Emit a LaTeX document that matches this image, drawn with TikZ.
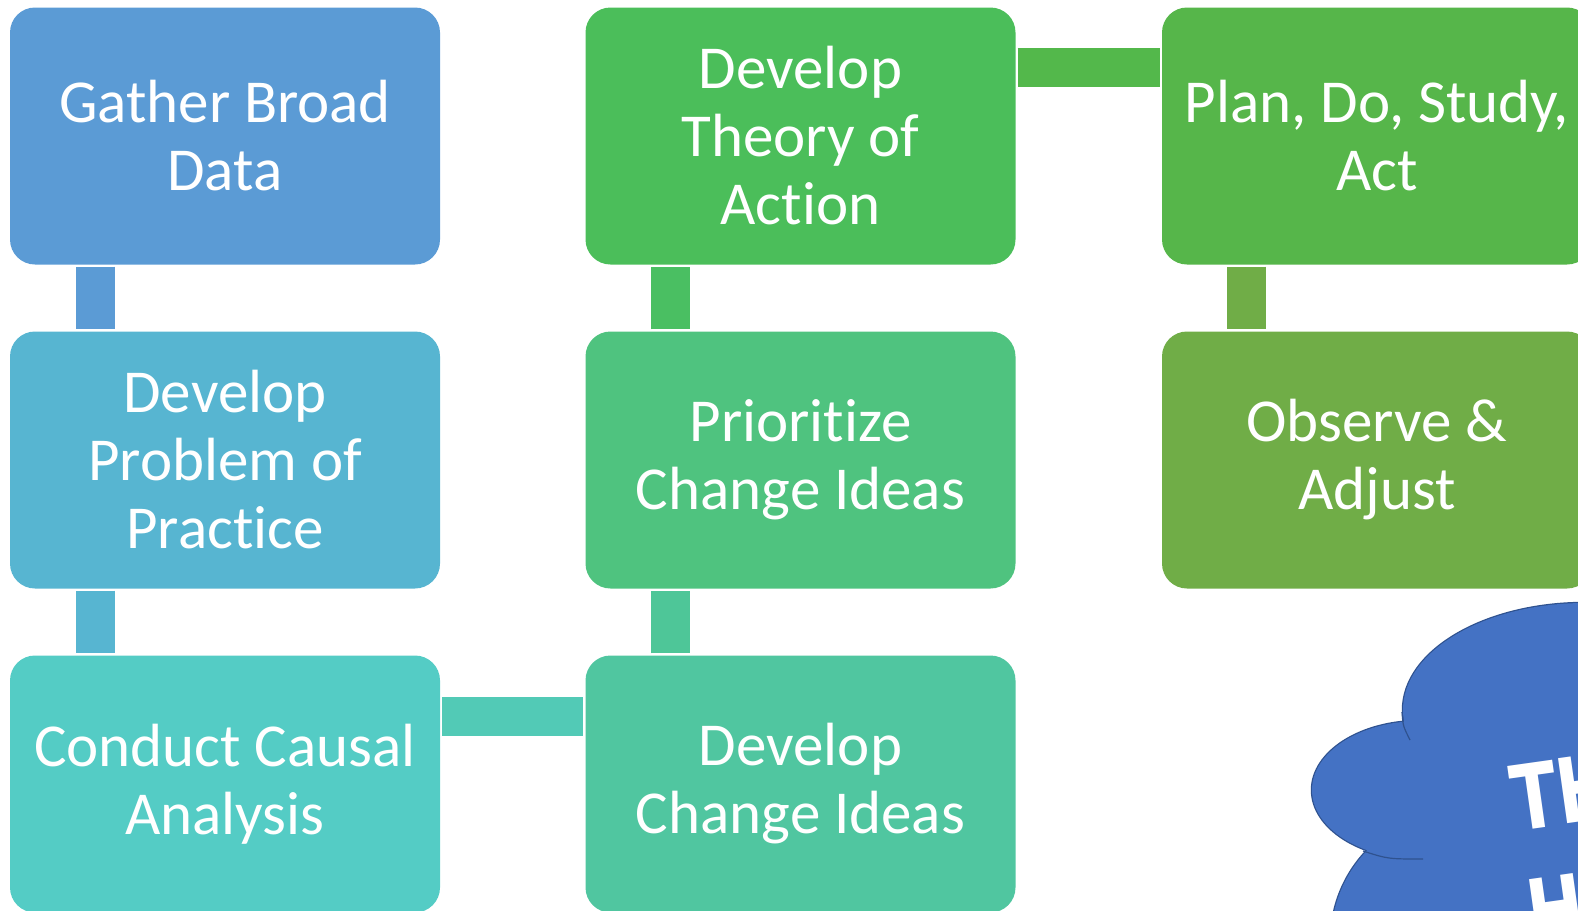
\documentclass[tikz,border=0pt]{standalone}
\usepackage{fontspec}
\setmainfont[Ligatures=NoCommon]{Carlito}
\newfontfamily\cloudfont[FakeStretch=0.75]{DejaVu Sans}

\definecolor{gathercol}{HTML}{5B9BD5}
\definecolor{problemcol}{HTML}{57B5D1}
\definecolor{causalcol}{HTML}{54CCC5}
\definecolor{ideascol}{HTML}{50C6A0}
\definecolor{prioritycol}{HTML}{4FC37F}
\definecolor{theorycol}{HTML}{4BBE5A}
\definecolor{pdsacol}{HTML}{56B64A}
\definecolor{observecol}{HTML}{70AD47}
\definecolor{barcausal}{HTML}{52CAB6}
\definecolor{barideas}{HTML}{4EC698}
\definecolor{bartheory}{HTML}{4ABF62}
\definecolor{barpdsa}{HTML}{53B84B}
\definecolor{cloudblue}{HTML}{4472C4}
\definecolor{cloudedge}{HTML}{2F528F}

\begin{document}
\begin{tikzpicture}[x=1pt, y=-1pt,
    stage/.style={rectangle, rounded corners=25pt, minimum width=430pt, minimum height=257pt, inner sep=0pt, text=white, align=center, font=\fontsize{61}{68}\selectfont},
    link/.style={line width=39pt, shorten <=2pt, shorten >=2pt},
    cloudtext/.style={text=white, inner sep=0pt, align=left, font=\cloudfont\bfseries\fontsize{90}{115}\selectfont}]
    \useasboundingbox (0,0) rectangle (1578,910);
    \clip (0,0) rectangle (1578,910);

    \node[stage, fill=gathercol] (gather) at (225,136) {Gather Broad\\Data};
    \node[stage, fill=problemcol] (problem) at (225,460) {Develop\\Problem of\\Practice};
    \node[stage, fill=causalcol] (causal) at (225,784) {Conduct Causal\\Analysis};
    \node[stage, fill=ideascol] (ideas) at (800.5,784) {Develop\\Change Ideas};
    \node[stage, fill=prioritycol] (priority) at (800.5,460) {Prioritize\\Change Ideas};
    \node[stage, fill=theorycol] (theory) at (800.5,136) {Develop\\Theory of\\Action};
    \node[stage, fill=pdsacol] (pdsa) at (1377,136) {Plan, Do, Study,\\Act};
    \node[stage, fill=observecol] (observe) at (1377,460) {Observe \&\\Adjust};

    \draw[link, gathercol] ([xshift=86pt]gather.south west) -- ([xshift=86pt]problem.north west);
    \draw[link, problemcol] ([xshift=86pt]problem.south west) -- ([xshift=86pt]causal.north west);
    \draw[link, barcausal] ([yshift=-61pt]causal.north east) -- ([yshift=-61pt]ideas.north west);
    \draw[link, barideas] ([xshift=85pt]ideas.north west) -- ([xshift=85pt]priority.south west);
    \draw[link, bartheory] ([xshift=85pt]priority.north west) -- ([xshift=85pt]theory.south west);
    \draw[link, barpdsa] ([yshift=-60pt]theory.north east) -- ([yshift=-60pt]pdsa.north west);
    \draw[link, observecol] ([xshift=85pt]pdsa.south west) -- ([xshift=85pt]observe.north west);

    % cloud: outline first, then the fill covers the inner halves
    \path[draw=cloudedge, line width=2.5pt] (1585,710) ellipse [x radius=182, y radius=107]
        (1420,790) ellipse [x radius=108, y radius=69] (1460,940) circle [radius=129];
    \path[fill=cloudblue] (1585,710) ellipse [x radius=182, y radius=107]
        (1420,790) ellipse [x radius=108, y radius=69] (1460,940) circle [radius=129]
        (1580,800) ellipse [x radius=200, y radius=150];
    \draw[cloudedge, line width=1.2pt] (1402,712) .. controls (1403,726) .. (1410,740);
    \draw[cloudedge, line width=1.2pt] (1363,851) .. controls (1388,859) .. (1423,859);
    \node[cloudtext, rotate=8, anchor=north west] (cloudlabel) at (1507,766) {TH\\H};
\end{tikzpicture}
\end{document}
